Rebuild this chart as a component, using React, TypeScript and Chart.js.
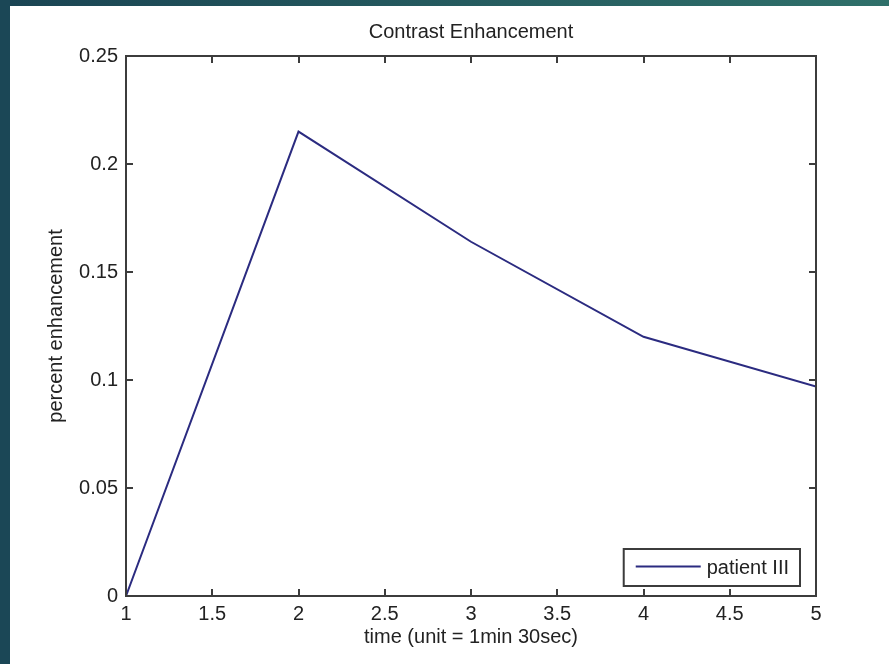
import React, { useEffect, useRef } from 'react';
import { Chart, registerables } from 'chart.js';

Chart.register(...registerables);

// ---- data ----
const timePoints = [1, 2, 3, 4, 5];
const enhancement = [0, 0.215, 0.164, 0.12, 0.097];
const xMin = 1;
const xMax = 5;
const xStep = 0.5;
const yMin = 0;
const yMax = 0.25;
const yStep = 0.05;
const chartTitle = 'Contrast Enhancement';
const xAxisTitle = 'time (unit = 1min 30sec)';
const yAxisTitle = 'percent enhancement';
const seriesLabel = 'patient III';

// ---- styles ----
const FONT = "'Liberation Sans', Arial, Helvetica, sans-serif";
const TEXT = '#222222';
const AXIS = '#3c3c3c';
const LINE = '#2b2b80';
const TICK_LEN = 7;

const fmt = (v: any) => String(parseFloat(Number(v).toFixed(4)));

const backgroundPlugin = {
  id: 'matlabBackground',
  beforeDraw(chart: any) {
    const { ctx, width, height } = chart;
    ctx.save();
    const g = ctx.createLinearGradient(0, 0, width, 0);
    g.addColorStop(0, '#1a4453');
    g.addColorStop(1, '#2f706a');
    ctx.fillStyle = g;
    ctx.fillRect(0, 0, width, height);
    ctx.fillStyle = '#1b4756';
    ctx.fillRect(0, 0, 10, height);
    ctx.fillStyle = '#ffffff';
    ctx.fillRect(10, 6, width - 10, height - 6);
    ctx.restore();
  },
};

const boxPlugin = {
  id: 'matlabBox',
  afterDatasetsDraw(chart: any) {
    const { ctx, chartArea } = chart;
    const { left, right, top, bottom } = chartArea;
    const xs = chart.scales.x;
    const ys = chart.scales.y;
    ctx.save();
    ctx.strokeStyle = AXIS;
    ctx.lineWidth = 2;
    ctx.beginPath();
    xs.ticks.forEach((t: any) => {
      const px = Math.round(xs.getPixelForValue(t.value));
      ctx.moveTo(px, bottom);
      ctx.lineTo(px, bottom - TICK_LEN);
      ctx.moveTo(px, top);
      ctx.lineTo(px, top + TICK_LEN);
    });
    ys.ticks.forEach((t: any) => {
      const py = Math.round(ys.getPixelForValue(t.value));
      ctx.moveTo(left, py);
      ctx.lineTo(left + TICK_LEN, py);
      ctx.moveTo(right, py);
      ctx.lineTo(right - TICK_LEN, py);
    });
    ctx.stroke();
    ctx.strokeRect(left, top, right - left, bottom - top);
    ctx.restore();
  },
};

const legendPlugin = {
  id: 'matlabLegend',
  afterDraw(chart: any) {
    const { ctx, chartArea } = chart;
    const ds = chart.data.datasets[0];
    ctx.save();
    ctx.font = `20px ${FONT}`;
    const textW = ctx.measureText(ds.label).width;
    const padL = 12;
    const lineLen = 65;
    const gap = 6;
    const padR = 11;
    const w = padL + lineLen + gap + textW + padR;
    const h = 37;
    const x = chartArea.right - 16 - w;
    const y = chartArea.bottom - 10 - h;
    ctx.fillStyle = '#ffffff';
    ctx.fillRect(x, y, w, h);
    ctx.strokeStyle = AXIS;
    ctx.lineWidth = 2;
    ctx.strokeRect(x, y, w, h);
    const cy = y + h / 2;
    ctx.strokeStyle = ds.borderColor;
    ctx.lineWidth = 2;
    ctx.beginPath();
    ctx.moveTo(x + padL, cy - 1);
    ctx.lineTo(x + padL + lineLen, cy - 1);
    ctx.stroke();
    ctx.fillStyle = TEXT;
    ctx.textBaseline = 'middle';
    ctx.textAlign = 'left';
    ctx.fillText(ds.label, x + padL + lineLen + gap, cy + 1);
    ctx.restore();
  },
};

export default function App() {
  const canvasRef = useRef<HTMLCanvasElement | null>(null);

  useEffect(() => {
    const canvas = canvasRef.current;
    if (!canvas) return;
    const points = timePoints.map((t, i) => ({ x: t, y: enhancement[i] }));
    const chart = new Chart(canvas, {
      type: 'line',
      data: {
        datasets: [
          {
            label: seriesLabel,
            data: points,
            borderColor: LINE,
            backgroundColor: LINE,
            borderWidth: 2,
            pointRadius: 0,
            tension: 0,
            fill: false,
          },
        ],
      },
      options: {
        responsive: false,
        animation: false,
        devicePixelRatio: 1,
        layout: { padding: { top: 6, left: 0, right: 73, bottom: 0 } },
        plugins: {
          legend: { display: false },
          tooltip: { enabled: false },
          title: {
            display: true,
            fullSize: false,
            text: chartTitle,
            color: TEXT,
            font: { family: FONT, size: 20, weight: 'normal' },
            padding: { top: 14, bottom: 12 },
          },
        },
        scales: {
          x: {
            type: 'linear',
            min: xMin,
            max: xMax,
            ticks: {
              stepSize: xStep,
              color: TEXT,
              font: { family: FONT, size: 20 },
              padding: 6,
              maxRotation: 0,
              callback: fmt,
            },
            grid: { drawOnChartArea: false, drawTicks: false },
            border: { display: false },
            title: {
              display: true,
              text: xAxisTitle,
              color: TEXT,
              font: { family: FONT, size: 20 },
              padding: { top: 0, bottom: 15 },
            },
            afterFit: (scale: any) => {
              scale.height = 68;
            },
          },
          y: {
            type: 'linear',
            min: yMin,
            max: yMax,
            ticks: {
              stepSize: yStep,
              color: TEXT,
              font: { family: FONT, size: 20 },
              padding: 8,
              callback: fmt,
            },
            grid: { drawOnChartArea: false, drawTicks: false },
            border: { display: false },
            title: {
              display: true,
              text: yAxisTitle,
              color: TEXT,
              font: { family: FONT, size: 20 },
              padding: { top: 44, bottom: 0 },
            },
            afterFit: (scale: any) => {
              scale.width = 126;
            },
          },
        },
      },
      plugins: [backgroundPlugin, boxPlugin, legendPlugin],
    } as any);
    return () => chart.destroy();
  }, []);

  return (
    <div style={{ position: 'absolute', left: 0, top: 0, width: 889, height: 664 }}>
      <canvas ref={canvasRef} width={889} height={664} style={{ display: 'block', width: 889, height: 664 }} />
    </div>
  );
}
